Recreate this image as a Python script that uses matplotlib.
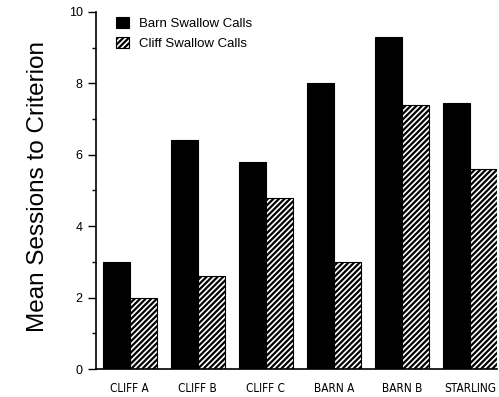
import matplotlib
matplotlib.use("Agg")
import matplotlib.pyplot as plt
import numpy as np
from matplotlib.ticker import MultipleLocator

categories = ["CLIFF A", "CLIFF B", "CLIFF C", "BARN A", "BARN B", "STARLING"]
barn_calls = [3.0, 6.4, 5.8, 8.0, 9.3, 7.45]
cliff_calls = [2.0, 2.6, 4.8, 3.0, 7.4, 5.6]

plt.rcParams['font.family'] = ['Liberation Sans', 'DejaVu Sans']
plt.rcParams['hatch.linewidth'] = 1.6

fig = plt.figure(figsize=(4.99, 3.97), dpi=100)
ax = fig.add_axes([0.192, 0.0705, 0.804, 0.8995])

x = np.arange(len(categories))
w = 0.4
ax.bar(x - w/2, barn_calls, w, color='black', edgecolor='black', linewidth=0.8,
       label='Barn Swallow Calls')
ax.bar(x + w/2, cliff_calls, w, color='white', edgecolor='black', linewidth=0.8,
       hatch='//////', label='Cliff Swallow Calls')

ax.set_xlim(-0.5, 5.4)
ax.set_ylim(0, 10)
ax.yaxis.set_major_locator(MultipleLocator(2))
ax.yaxis.set_minor_locator(MultipleLocator(1))
ax.tick_params(axis='y', which='major', length=6, width=1, labelsize=9, direction='out')
ax.tick_params(axis='y', which='minor', length=3, width=1)
ax.set_xticks(x)
ax.set_xticklabels(categories, fontsize=8.5, family='DejaVu Sans', fontstretch='condensed')
ax.tick_params(axis='x', length=0, pad=9)
for s in ['top', 'right']:
    ax.spines[s].set_visible(False)
ax.spines['left'].set_linewidth(1.2)
ax.spines['bottom'].set_linewidth(1.2)

ax.set_ylabel('Mean Sessions to Criterion', fontsize=17.5)
ax.yaxis.set_label_coords(-0.117, 0.51)

leg = ax.legend(loc='upper left', bbox_to_anchor=(0.02, 1.02), frameon=False,
                fontsize=9.5, handlelength=1.0, handleheight=1.0, handletextpad=0.8,
                labelspacing=0.5)

fig.savefig('out.png', dpi=100)
